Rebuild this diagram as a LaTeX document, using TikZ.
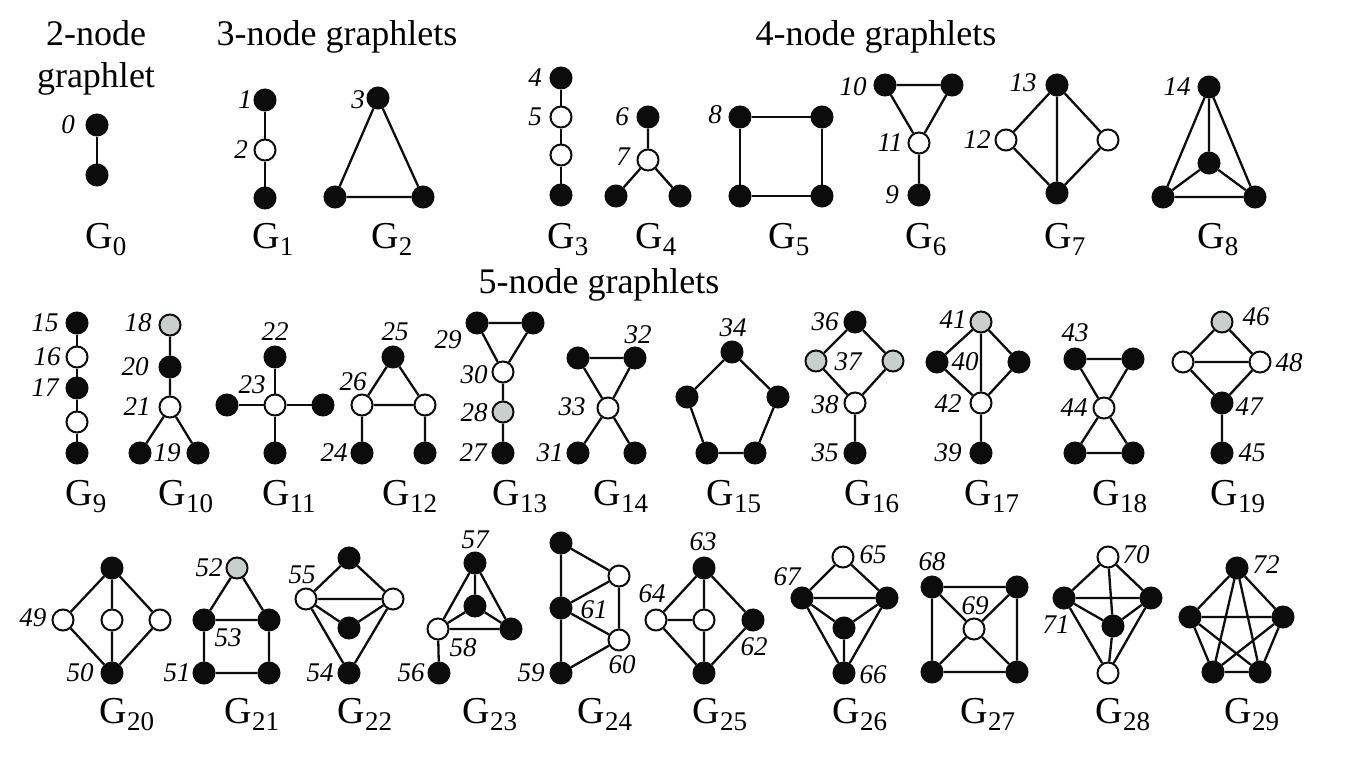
\documentclass[tikz,border=0pt]{standalone}
\usepackage{fontspec}
\setmainfont{Liberation Serif}
\newcommand{\Glab}[1]{G\raisebox{-7pt}{\fontsize{27}{27}\selectfont #1}}
\definecolor{nodegray}{RGB}{202,206,205}
\definecolor{ink}{RGB}{12,12,12}
\begin{document}
\begin{tikzpicture}[x=1pt,y=-1pt,
  vtx/.style={circle,inner sep=0pt,minimum size=21pt,line width=2pt,draw=ink},
  bn/.style={vtx,fill=ink},
  wn/.style={vtx,fill=white},
  gn/.style={vtx,fill=nodegray},
  edge/.style={line width=2.3pt,draw=ink},
  num/.style={inner sep=0pt,font=\fontsize{27}{27}\selectfont\itshape},
  ttl/.style={inner sep=0pt,anchor=base,font=\fontsize{36}{40}\selectfont},
  glab/.style={inner sep=0pt,anchor=base,font=\fontsize{38}{40}\selectfont}]
\path[use as bounding box,fill=white] (0,0) rectangle (1346,764);

% titles
\node[ttl] (t2a) at (96,45) {2-node};
\node[ttl] (t2b) at (96,87) {graphlet};
\node[ttl] (t3) at (337,45) {3-node graphlets};
\node[ttl] (t4) at (876,45) {4-node graphlets};
\node[ttl] (t5) at (599,293) {5-node graphlets};

% ---------------- Row 1 ----------------
% G0
\node[bn] (a0a) at (97,125) {}; \node[bn] (a0b) at (97,175) {};
\node[num] (n0) at (68,125) {0};
\draw[edge] (a0a)--(a0b);
\node[glab] (g0) at (106,248) {\Glab{0}};
% G1
\node[bn] (a1a) at (265,100) {}; \node[wn] (a1b) at (265,150) {}; \node[bn] (a1c) at (265,198) {};
\node[num] (n1) at (245,100) {1}; \node[num] (n2) at (241,150) {2};
\draw[edge] (a1a)--(a1b) (a1b)--(a1c);
\node[glab] (g1) at (273,248) {\Glab{1}};
% G2
\node[bn] (a2a) at (378,98) {}; \node[bn] (a2b) at (335,197) {}; \node[bn] (a2c) at (423,197) {};
\node[num] (n3) at (358,100) {3};
\draw[edge] (a2a)--(a2b) (a2a)--(a2c) (a2b)--(a2c);
\node[glab] (g2) at (392,248) {\Glab{2}};
% G3
\node[bn] (a3a) at (561,78) {}; \node[wn] (a3b) at (561,117) {}; \node[wn] (a3c) at (561,155) {}; \node[bn] (a3d) at (561,195) {};
\node[num] (n4) at (535,78) {4}; \node[num] (n5) at (535,117) {5};
\draw[edge] (a3a)--(a3b) (a3b)--(a3c) (a3c)--(a3d);
\node[glab] (g3) at (568,248) {\Glab{3}};
% G4
\node[bn] (a4a) at (648,117) {}; \node[wn] (a4b) at (648,160) {}; \node[bn] (a4c) at (616,196) {}; \node[bn] (a4d) at (680,196) {};
\node[num] (n6) at (622,117) {6}; \node[num] (n7) at (623,157) {7};
\draw[edge] (a4a)--(a4b) (a4b)--(a4c) (a4b)--(a4d);
\node[glab] (g4) at (656,248) {\Glab{4}};
% G5
\node[bn] (a5a) at (740,117) {}; \node[bn] (a5b) at (822,117) {}; \node[bn] (a5c) at (740,196) {}; \node[bn] (a5d) at (822,196) {};
\node[num] (n8) at (715,115) {8};
\draw[edge] (a5a)--(a5b) (a5b)--(a5d) (a5d)--(a5c) (a5c)--(a5a);
\node[glab] (g5) at (789,248) {\Glab{5}};
% G6
\node[bn] (a6a) at (885,85) {}; \node[bn] (a6b) at (952,85) {}; \node[wn] (a6c) at (919,143) {}; \node[bn] (a6d) at (919,195) {};
\node[num] (n10) at (853,87) {10}; \node[num] (n11) at (890,143) {11}; \node[num] (n9) at (892,195) {9};
\draw[edge] (a6a)--(a6b) (a6a)--(a6c) (a6b)--(a6c) (a6c)--(a6d);
\node[glab] (g6) at (926,248) {\Glab{6}};
% G7
\node[bn] (a7a) at (1057,85) {}; \node[wn] (a7b) at (1006,140) {}; \node[wn] (a7c) at (1108,140) {}; \node[bn] (a7d) at (1057,193) {};
\node[num] (n13) at (1023,83) {13}; \node[num] (n12) at (977,140) {12};
\draw[edge] (a7a)--(a7b) (a7a)--(a7c) (a7a)--(a7d) (a7b)--(a7d) (a7c)--(a7d);
\node[glab] (g7) at (1065,248) {\Glab{7}};
% G8
\node[bn] (a8a) at (1209,87) {}; \node[bn] (a8b) at (1209,163) {}; \node[bn] (a8c) at (1163,197) {}; \node[bn] (a8d) at (1255,197) {};
\node[num] (n14) at (1177,87) {14};
\draw[edge] (a8a)--(a8b) (a8a)--(a8c) (a8a)--(a8d) (a8b)--(a8c) (a8b)--(a8d) (a8c)--(a8d);
\node[glab] (g8) at (1218,248) {\Glab{8}};

% ---------------- Row 2 ----------------
% G9
\node[bn] (a9a) at (77,323) {}; \node[wn] (a9b) at (77,357) {}; \node[bn] (a9c) at (77,388) {}; \node[wn] (a9d) at (77,422) {}; \node[bn] (a9e) at (77,453) {};
\node[num] (n15) at (45,323) {15}; \node[num] (n16) at (47,357) {16}; \node[num] (n17) at (45,388) {17};
\draw[edge] (a9a)--(a9b) (a9b)--(a9c) (a9c)--(a9d) (a9d)--(a9e);
\node[glab] (g9) at (86,505) {\Glab{9}};
% G10
\node[gn] (a10a) at (170,325) {}; \node[bn] (a10b) at (170,367) {}; \node[wn] (a10c) at (170,407) {}; \node[bn] (a10d) at (140,453) {}; \node[bn] (a10e) at (198,453) {};
\node[num] (n18) at (138,323) {18}; \node[num] (n20) at (135,367) {20}; \node[num] (n21) at (137,407) {21}; \node[num] (n19) at (167,453) {19};
\draw[edge] (a10a)--(a10b) (a10b)--(a10c) (a10c)--(a10d) (a10c)--(a10e);
\node[glab] (g10) at (186,505) {\Glab{10}};
% G11
\node[bn] (a11a) at (275,357) {}; \node[wn] (a11b) at (275,405) {}; \node[bn] (a11c) at (227,405) {}; \node[bn] (a11d) at (323,405) {}; \node[bn] (a11e) at (275,453) {};
\node[num] (n22) at (275,332) {22}; \node[num] (n23) at (252,385) {23};
\draw[edge] (a11a)--(a11b) (a11b)--(a11c) (a11b)--(a11d) (a11b)--(a11e);
\node[glab] (g11) at (289,505) {\Glab{11}};
% G12
\node[bn] (a12a) at (393,357) {}; \node[wn] (a12b) at (362,405) {}; \node[wn] (a12c) at (425,405) {}; \node[bn] (a12d) at (362,453) {}; \node[bn] (a12e) at (425,453) {};
\node[num] (n25) at (395,332) {25}; \node[num] (n26) at (353,382) {26}; \node[num] (n24) at (334,453) {24};
\draw[edge] (a12a)--(a12b) (a12a)--(a12c) (a12b)--(a12c) (a12b)--(a12d) (a12c)--(a12e);
\node[glab] (g12) at (410,505) {\Glab{12}};
% G13
\node[bn] (a13a) at (477,323) {}; \node[bn] (a13b) at (533,323) {}; \node[wn] (a13c) at (503,372) {}; \node[gn] (a13d) at (503,412) {}; \node[bn] (a13e) at (503,453) {};
\node[num] (n29) at (448,340) {29}; \node[num] (n30) at (474,375) {30}; \node[num] (n28) at (474,413) {28}; \node[num] (n27) at (473,453) {27};
\draw[edge] (a13a)--(a13b) (a13a)--(a13c) (a13b)--(a13c) (a13c)--(a13d) (a13d)--(a13e);
\node[glab] (g13) at (520,505) {\Glab{13}};
% G14
\node[bn] (a14a) at (578,358) {}; \node[bn] (a14b) at (635,358) {}; \node[wn] (a14c) at (608,408) {}; \node[bn] (a14d) at (578,453) {}; \node[bn] (a14e) at (635,453) {};
\node[num] (n32) at (638,335) {32}; \node[num] (n33) at (572,407) {33}; \node[num] (n31) at (550,453) {31};
\draw[edge] (a14a)--(a14b) (a14a)--(a14c) (a14b)--(a14c) (a14c)--(a14d) (a14c)--(a14e);
\node[glab] (g14) at (621,505) {\Glab{14}};
% G15
\node[bn] (a15a) at (732,352) {}; \node[bn] (a15b) at (687,397) {}; \node[bn] (a15c) at (778,397) {}; \node[bn] (a15d) at (707,453) {}; \node[bn] (a15e) at (755,453) {};
\node[num] (n34) at (733,328) {34};
\draw[edge] (a15a)--(a15b) (a15a)--(a15c) (a15b)--(a15d) (a15c)--(a15e) (a15d)--(a15e);
\node[glab] (g15) at (734,505) {\Glab{15}};
% G16
\node[bn] (a16a) at (855,322) {}; \node[gn] (a16b) at (816,361) {}; \node[gn] (a16c) at (893,361) {}; \node[wn] (a16d) at (855,403) {}; \node[bn] (a16e) at (855,453) {};
\node[num] (n36) at (825,322) {36}; \node[num] (n37) at (848,362) {37}; \node[num] (n38) at (825,405) {38}; \node[num] (n35) at (825,453) {35};
\draw[edge] (a16a)--(a16b) (a16a)--(a16c) (a16b)--(a16d) (a16c)--(a16d) (a16d)--(a16e);
\node[glab] (g16) at (872,505) {\Glab{16}};
% G17
\node[gn] (a17a) at (981,322) {}; \node[bn] (a17b) at (937,362) {}; \node[bn] (a17c) at (1019,362) {}; \node[wn] (a17d) at (981,403) {}; \node[bn] (a17e) at (981,453) {};
\node[num] (n41) at (953,320) {41}; \node[num] (n40) at (965,362) {40}; \node[num] (n42) at (948,404) {42}; \node[num] (n39) at (948,453) {39};
\draw[edge] (a17a)--(a17b) (a17a)--(a17c) (a17a)--(a17d) (a17b)--(a17d) (a17c)--(a17d) (a17d)--(a17e);
\node[glab] (g17) at (992,505) {\Glab{17}};
% G18
\node[bn] (a18a) at (1075,359) {}; \node[bn] (a18b) at (1133,359) {}; \node[wn] (a18c) at (1104,408) {}; \node[bn] (a18d) at (1075,453) {}; \node[bn] (a18e) at (1133,453) {};
\node[num] (n43) at (1075,333) {43}; \node[num] (n44) at (1074,408) {44};
\draw[edge] (a18a)--(a18b) (a18a)--(a18c) (a18b)--(a18c) (a18c)--(a18d) (a18c)--(a18e) (a18d)--(a18e);
\node[glab] (g18) at (1120,505) {\Glab{18}};
% G19
\node[gn] (a19a) at (1222,322) {}; \node[wn] (a19b) at (1183,362) {}; \node[wn] (a19c) at (1260,362) {}; \node[bn] (a19d) at (1222,403) {}; \node[bn] (a19e) at (1222,453) {};
\node[num] (n46) at (1256,317) {46}; \node[num] (n48) at (1289,363) {48}; \node[num] (n47) at (1249,407) {47}; \node[num] (n45) at (1252,453) {45};
\draw[edge] (a19a)--(a19b) (a19a)--(a19c) (a19b)--(a19c) (a19b)--(a19d) (a19c)--(a19d) (a19d)--(a19e);
\node[glab] (g19) at (1238,505) {\Glab{19}};

% ---------------- Row 3 ----------------
% G20
\node[bn] (a20a) at (112,568) {}; \node[wn] (a20b) at (63,620) {}; \node[wn] (a20c) at (112,620) {}; \node[wn] (a20d) at (160,620) {}; \node[bn] (a20e) at (112,673) {};
\node[num] (n49) at (33,618) {49}; \node[num] (n50) at (80,673) {50};
\draw[edge] (a20a)--(a20b) (a20a)--(a20c) (a20a)--(a20d) (a20b)--(a20e) (a20c)--(a20e) (a20d)--(a20e);
\node[glab] (g20) at (127,723) {\Glab{20}};
% G21
\node[gn] (a21a) at (237,568) {}; \node[bn] (a21b) at (204,620) {}; \node[bn] (a21c) at (269,620) {}; \node[bn] (a21d) at (204,673) {}; \node[bn] (a21e) at (269,673) {};
\node[num] (n52) at (209,568) {52}; \node[num] (n53) at (228,638) {53}; \node[num] (n51) at (177,673) {51};
\draw[edge] (a21a)--(a21b) (a21a)--(a21c) (a21b)--(a21c) (a21b)--(a21d) (a21c)--(a21e) (a21d)--(a21e);
\node[glab] (g21) at (252,723) {\Glab{21}};
% G22
\node[bn] (a22a) at (349,558) {}; \node[wn] (a22b) at (306,599) {}; \node[wn] (a22c) at (393,599) {}; \node[bn] (a22d) at (349,628) {}; \node[bn] (a22e) at (349,673) {};
\node[num] (n55) at (302,575) {55}; \node[num] (n54) at (320,673) {54};
\draw[edge] (a22a)--(a22b) (a22a)--(a22c) (a22b)--(a22c) (a22b)--(a22d) (a22c)--(a22d) (a22b)--(a22e) (a22c)--(a22e);
\node[glab] (g22) at (365,723) {\Glab{22}};
% G23
\node[bn] (a23a) at (475,563) {}; \node[bn] (a23b) at (475,606) {}; \node[wn] (a23c) at (438,629) {}; \node[bn] (a23d) at (511,629) {}; \node[bn] (a23e) at (439,673) {};
\node[num] (n57) at (475,540) {57}; \node[num] (n58) at (463,648) {58}; \node[num] (n56) at (411,673) {56};
\draw[edge] (a23a)--(a23b) (a23a)--(a23c) (a23a)--(a23d) (a23b)--(a23c) (a23b)--(a23d) (a23c)--(a23d) (a23c)--(a23e);
\node[glab] (g23) at (490,723) {\Glab{23}};
% G24
\node[bn] (a24a) at (561,543) {}; \node[wn] (a24b) at (619,576) {}; \node[bn] (a24c) at (561,608) {}; \node[wn] (a24d) at (619,640) {}; \node[bn] (a24e) at (561,673) {};
\node[num] (n61) at (594,610) {61}; \node[num] (n60) at (622,665) {60}; \node[num] (n59) at (531,673) {59};
\draw[edge] (a24a)--(a24c) (a24c)--(a24e) (a24a)--(a24b) (a24c)--(a24b) (a24c)--(a24d) (a24b)--(a24d) (a24e)--(a24d);
\node[glab] (g24) at (605,723) {\Glab{24}};
% G25
\node[bn] (a25a) at (704,568) {}; \node[wn] (a25b) at (656,620) {}; \node[wn] (a25c) at (704,620) {}; \node[bn] (a25d) at (753,620) {}; \node[bn] (a25e) at (704,673) {};
\node[num] (n63) at (703,542) {63}; \node[num] (n64) at (652,594) {64}; \node[num] (n62) at (754,647) {62};
\draw[edge] (a25a)--(a25b) (a25a)--(a25c) (a25a)--(a25d) (a25b)--(a25c) (a25b)--(a25e) (a25c)--(a25e) (a25d)--(a25e);
\node[glab] (g25) at (720,723) {\Glab{25}};
% G26
\node[wn] (a26a) at (843,557) {}; \node[bn] (a26b) at (802,598) {}; \node[bn] (a26c) at (887,598) {}; \node[bn] (a26d) at (844,628) {}; \node[bn] (a26e) at (844,673) {};
\node[num] (n65) at (873,555) {65}; \node[num] (n67) at (787,577) {67}; \node[num] (n66) at (873,675) {66};
\draw[edge] (a26a)--(a26b) (a26a)--(a26c) (a26b)--(a26c) (a26b)--(a26d) (a26c)--(a26d) (a26b)--(a26e) (a26c)--(a26e) (a26d)--(a26e);
\node[glab] (g26) at (860,723) {\Glab{26}};
% G27
\node[bn] (a27a) at (932,587) {}; \node[bn] (a27b) at (1017,587) {}; \node[wn] (a27c) at (974,629) {}; \node[bn] (a27d) at (932,672) {}; \node[bn] (a27e) at (1017,672) {};
\node[num] (n68) at (932,562) {68}; \node[num] (n69) at (975,606) {69};
\draw[edge] (a27a)--(a27b) (a27b)--(a27e) (a27e)--(a27d) (a27d)--(a27a) (a27a)--(a27c) (a27b)--(a27c) (a27d)--(a27c) (a27e)--(a27c);
\node[glab] (g27) at (988,723) {\Glab{27}};
% G28
\node[wn] (a28a) at (1108,557) {}; \node[bn] (a28b) at (1064,598) {}; \node[bn] (a28c) at (1151,598) {}; \node[bn] (a28d) at (1113,626) {}; \node[wn] (a28e) at (1108,673) {};
\node[num] (n70) at (1136,555) {70}; \node[num] (n71) at (1056,625) {71};
\draw[edge] (a28a)--(a28b) (a28a)--(a28c) (a28a)--(a28d) (a28b)--(a28c) (a28b)--(a28d) (a28c)--(a28d) (a28b)--(a28e) (a28c)--(a28e) (a28d)--(a28e);
\node[glab] (g28) at (1123,723) {\Glab{28}};
% G29
\node[bn] (a29a) at (1237,568) {}; \node[bn] (a29b) at (1190,617) {}; \node[bn] (a29c) at (1283,617) {}; \node[bn] (a29d) at (1213,672) {}; \node[bn] (a29e) at (1260,672) {};
\node[num] (n72) at (1266,565) {72};
\draw[edge] (a29a)--(a29b) (a29a)--(a29c) (a29a)--(a29d) (a29a)--(a29e) (a29b)--(a29c) (a29b)--(a29d) (a29b)--(a29e) (a29c)--(a29d) (a29c)--(a29e) (a29d)--(a29e);
\node[glab] (g29) at (1252,723) {\Glab{29}};
\end{tikzpicture}
\end{document}
